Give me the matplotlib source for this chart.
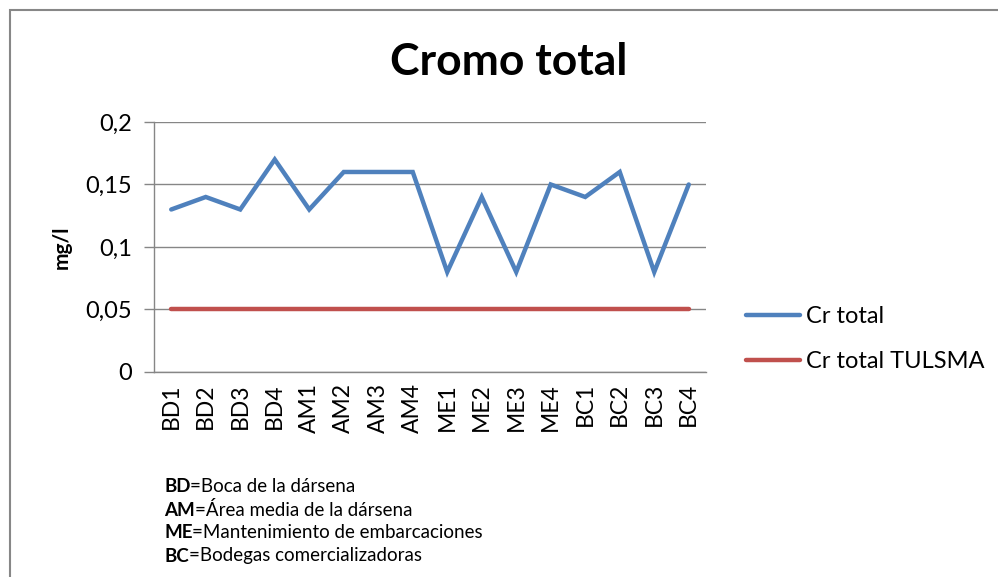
import matplotlib
matplotlib.use("Agg")
import matplotlib.pyplot as plt
from matplotlib.patches import Rectangle

plt.rcParams["font.family"] = ["Lato", "DejaVu Sans"]

sitios = ["BD1", "BD2", "BD3", "BD4", "AM1", "AM2", "AM3", "AM4",
          "ME1", "ME2", "ME3", "ME4", "BC1", "BC2", "BC3", "BC4"]
cr_total = [0.13, 0.14, 0.13, 0.17, 0.13, 0.16, 0.16, 0.16,
            0.08, 0.14, 0.08, 0.15, 0.14, 0.16, 0.08, 0.15]
cr_tulsma = [0.05] * 16
yticks = [0, 0.05, 0.1, 0.15, 0.2]
ytick_labels = ["0", "0,05", "0,1", "0,15", "0,2"]
notas = [("BD", "=Boca de la dársena"),
         ("AM", "=Área media de la dársena"),
         ("ME", "=Mantenimiento de embarcaciones"),
         ("BC", "=Bodegas comercializadoras")]

fig = plt.figure(figsize=(9.98, 5.77), dpi=100)
ax = fig.add_axes([0.1543, 0.3553, 0.5531, 0.4333])

x = range(len(sitios))
ax.plot(x, cr_total, color="#4F81BD", lw=3.2, solid_capstyle="round",
        solid_joinstyle="miter", label="Cr total")
ax.plot(x, cr_tulsma, color="#C0504D", lw=3.2, solid_capstyle="round",
        label="Cr total TULSMA")

ax.set_xlim(-0.5, len(sitios) - 0.5)
ax.set_ylim(0, 0.2)
ax.set_yticks(yticks)
ax.set_yticklabels(ytick_labels)
ax.set_xticks(list(x))
ax.set_xticklabels(sitios, rotation=90)
ax.tick_params(axis="y", length=7, width=1, color="#868686", pad=9, labelsize=17)
ax.tick_params(axis="x", length=0, pad=8, labelsize=16.5)
ax.grid(axis="y", color="#868686", lw=1)
ax.set_axisbelow(True)
for s in ["top", "right"]:
    ax.spines[s].set_visible(False)
for s in ["left", "bottom"]:
    ax.spines[s].set_color("#868686")
    ax.spines[s].set_linewidth(1)

ax.set_ylabel("mg/l", fontsize=15, fontweight="bold", labelpad=10)
fig.text(0.51, 0.893, "Cromo total", ha="center", va="center",
         fontsize=32, fontweight="bold")

fig.legend(loc="center left", bbox_to_anchor=(0.7475, 0.4125), frameon=False,
           fontsize=17, handlelength=2.3, handletextpad=0.25, labelspacing=1.0,
           borderpad=0, borderaxespad=0)

y0 = 577 - 487
for i, (abrev, texto) in enumerate(notas):
    yy = (y0 - i * 23) / 577
    t = fig.text(164 / 998, yy, abrev, fontsize=13.5, fontweight="bold",
                 ha="left", va="center")
    ax.annotate(texto, xy=(1, 0.5), xycoords=t, ha="left", va="center",
                fontsize=13.5, annotation_clip=False)

fig.patches.append(Rectangle((10 / 998, -0.1), 2, (577 - 10) / 577 + 0.1,
                             transform=fig.transFigure, fill=False,
                             edgecolor="#878787", lw=1.5))

fig.savefig("out.png", dpi=100)
